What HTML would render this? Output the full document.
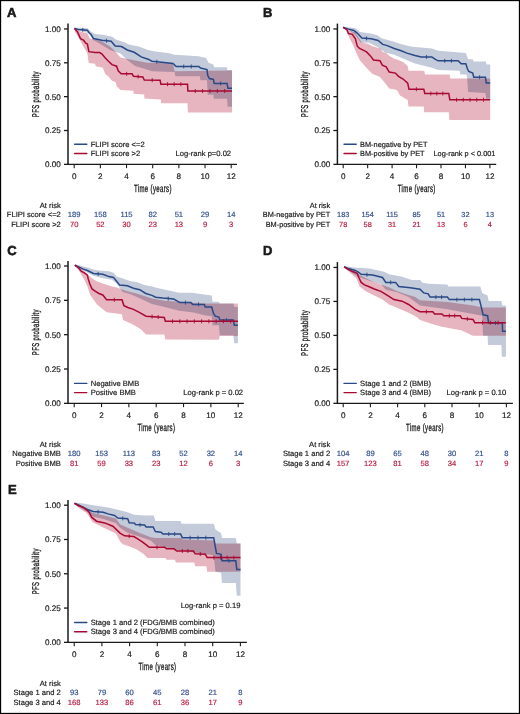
<!DOCTYPE html>
<html><head><meta charset="utf-8"><style>
html,body{margin:0;padding:0;background:#fff;width:520px;height:714px;overflow:hidden}
svg{display:block;will-change:transform;text-rendering:geometricPrecision;font-size:7.6px}
text{font-family:"Liberation Sans",sans-serif;fill:#1a1a1a;stroke:#1a1a1a;stroke-width:0.18px}
</style></head><body>
<svg width="520" height="714" viewBox="0 0 520 714">
<rect x="0.5" y="0.5" width="519" height="713" fill="#fff" stroke="#000" stroke-width="1.3"/>
<g style="font-size:7.6px"><path d="M74.5 27.5 L87.4 28.2 L90.5 31.2 L95 34 L102.8 34.8 L112.3 36.7 L115.8 39.6 L125 42.5 L129.6 44.8 L138.8 46.5 L148.1 50 L155 51.5 L168.2 53.1 L174.6 54.7 L198.8 56.3 L206.1 57.9 L208.5 62.8 L213.4 64.5 L214.2 67.3 L227.1 67.3 L227.1 70 L232 70 L232 106.8 L227.6 106.8 L227.1 98.8 L213.7 98.8 L213.4 94.7 L207.7 94.7 L207 80.2 L200.5 80.2 L199.7 76.2 L175.4 76.2 L174.6 72.1 L152 71.3 L146.9 69.6 L135 66 L127.4 60 L120.4 53.5 L110 50 L100.8 44.2 L93 40 L88.9 33.2 L80 30.5 L74.5 29 Z" fill="#c3cad9"/>
<path d="M74.5 28.5 L81.2 31.7 L87.4 33.2 L89.7 38.6 L100.8 40.8 L110 46.5 L115 51 L120.4 57.5 L129 59.3 L138 61 L146.9 62.7 L173 63.2 L174.6 71.3 L232 70.5 L232 112.5 L187.9 112.5 L187.5 103.3 L161.2 103.3 L160.9 99.6 L144.3 98.5 L144.3 94.6 L133.5 93.8 L133.5 90.8 L120.5 90 L116.6 86.2 L115.8 82.3 L112 80.8 L108.9 76.9 L105.1 73.8 L102.8 67.7 L95.8 66.2 L95.1 63.8 L88.9 63.1 L88.2 60 L87.4 53.2 L82.8 45.5 L79.7 39.4 L75 31.7 L74.5 29 Z" fill="#e6b5c0" style="mix-blend-mode:multiply"/>
<path d="M74.5 28.6 L78.2 29.5 L87.4 30.2 L88.9 32.5 L91.2 34.8 L93.5 38.6 L98.2 39.4 L101.9 40.2 L111.2 41.3 L115.2 46 L121.5 46.5 L127.3 50 L134.2 52.3 L141.2 56.9 L148.1 59.2 L152 61.2 L161.7 62.2 L173 63.5 L176.2 66.5 L198.8 66.5 L200.5 68.1 L207 69.5 L207.7 75.3 L209.4 78.6 L213.4 79.4 L214.2 83.4 L227.1 83.4 L227.9 88.3 L232 88.3" fill="none" stroke="#284887" stroke-width="1.5" stroke-linejoin="miter"/>
<path d="M82.8 27.85v4M106.55 38.75v4M156.85 59.7v4M183.73 64.5v4M191.27 64.5v4M220.65 81.4v4" stroke="#284887" stroke-width="0.9"/>
<path d="M74.5 28.6 L77.4 31.7 L80.5 38.6 L83.5 40.2 L85.8 43.2 L87.4 44 L88.9 51.7 L95.1 52.5 L99.7 52.5 L102 54 L105.1 57.8 L108.2 61 L112 64.6 L116.6 66.2 L118.2 70.8 L121.2 73.8 L132 73.8 L133.5 76.2 L142.8 76.9 L144.3 80 L160.1 80.2 L160.9 84.2 L187.5 84.2 L187.9 91 L232 91" fill="none" stroke="#a80832" stroke-width="1.5" stroke-linejoin="miter"/>
<path d="M126.6 71.8v4M138.15 74.55v4M152.2 78.1v4M167.55 82.2v4M174.2 82.2v4M180.85 82.2v4M195.25 89v4M202.6 89v4M209.95 89v4M217.3 89v4M224.65 89v4" stroke="#a80832" stroke-width="0.9"/>
<path d="M68 23.6 V164.95" fill="none" stroke="#1a1a1a" stroke-width="1.5"/>
<path d="M67.25 164.35 H237" fill="none" stroke="#1a1a1a" stroke-width="1.35"/>
<path d="M64 164.35 H68" stroke="#1a1a1a" stroke-width="1.3"/>
<text x="60.8" y="167.25" text-anchor="end" style="font-size:8.1px">0.00</text>
<path d="M64 130.5 H68" stroke="#1a1a1a" stroke-width="1.3"/>
<text x="60.8" y="133.4" text-anchor="end" style="font-size:8.1px">0.25</text>
<path d="M64 96.65 H68" stroke="#1a1a1a" stroke-width="1.3"/>
<text x="60.8" y="99.55" text-anchor="end" style="font-size:8.1px">0.50</text>
<path d="M64 62.8 H68" stroke="#1a1a1a" stroke-width="1.3"/>
<text x="60.8" y="65.7" text-anchor="end" style="font-size:8.1px">0.75</text>
<path d="M64 28.95 H68" stroke="#1a1a1a" stroke-width="1.3"/>
<text x="60.8" y="31.85" text-anchor="end" style="font-size:8.1px">1.00</text>
<path d="M74.2 164.35 V168.15" stroke="#1a1a1a" stroke-width="1.1"/>
<text x="74.2" y="178.95" text-anchor="middle" style="font-size:8.1px">0</text>
<path d="M100.37 164.35 V168.15" stroke="#1a1a1a" stroke-width="1.1"/>
<text x="100.37" y="178.95" text-anchor="middle" style="font-size:8.1px">2</text>
<path d="M126.53 164.35 V168.15" stroke="#1a1a1a" stroke-width="1.1"/>
<text x="126.53" y="178.95" text-anchor="middle" style="font-size:8.1px">4</text>
<path d="M152.7 164.35 V168.15" stroke="#1a1a1a" stroke-width="1.1"/>
<text x="152.7" y="178.95" text-anchor="middle" style="font-size:8.1px">6</text>
<path d="M178.87 164.35 V168.15" stroke="#1a1a1a" stroke-width="1.1"/>
<text x="178.87" y="178.95" text-anchor="middle" style="font-size:8.1px">8</text>
<path d="M205.03 164.35 V168.15" stroke="#1a1a1a" stroke-width="1.1"/>
<text x="205.03" y="178.95" text-anchor="middle" style="font-size:8.1px">10</text>
<path d="M231.2 164.35 V168.15" stroke="#1a1a1a" stroke-width="1.1"/>
<text x="231.2" y="178.95" text-anchor="middle" style="font-size:8.1px">12</text>
<text transform="translate(152.9 192.35) scale(0.58 1)" x="0" y="0" text-anchor="middle" style="font-size:10.4px;stroke-width:0.35px;letter-spacing:0.62px">Time (years)</text>
<text transform="translate(38.9 94.15) rotate(-90) scale(0.6 1)" x="0" y="0" text-anchor="middle" style="font-size:9.9px;stroke-width:0.35px;letter-spacing:0.65px">PFS probability</text>
<text x="7" y="17.2" style="font-size:13px;font-weight:bold;stroke-width:0.6px">A</text>
<path d="M74.6 144.2 H86.8" stroke="#284887" stroke-width="1.4" stroke-linecap="round"/>
<text x="90.7" y="146.6">FLIPI score &lt;=2</text>
<path d="M74.6 153.5 H86.8" stroke="#a80832" stroke-width="1.4" stroke-linecap="round"/>
<text x="90.7" y="155.9">FLIPI score &gt;2</text>
<text x="231.1" y="156.1" text-anchor="end">Log-rank p=0.02</text>
<text x="60.8" y="207.65" text-anchor="end">At risk</text>
<text x="60.8" y="217.25" text-anchor="end">FLIPI score &lt;=2</text>
<text x="74.2" y="217.25" text-anchor="middle" style="fill:#33508e;stroke:#33508e">189</text>
<text x="100.37" y="217.25" text-anchor="middle" style="fill:#33508e;stroke:#33508e">158</text>
<text x="126.53" y="217.25" text-anchor="middle" style="fill:#33508e;stroke:#33508e">115</text>
<text x="152.7" y="217.25" text-anchor="middle" style="fill:#33508e;stroke:#33508e">82</text>
<text x="178.87" y="217.25" text-anchor="middle" style="fill:#33508e;stroke:#33508e">51</text>
<text x="205.03" y="217.25" text-anchor="middle" style="fill:#33508e;stroke:#33508e">29</text>
<text x="231.2" y="217.25" text-anchor="middle" style="fill:#33508e;stroke:#33508e">14</text>
<text x="60.8" y="226.65" text-anchor="end">FLIPI score &gt;2</text>
<text x="74.2" y="226.65" text-anchor="middle" style="fill:#bb1f45;stroke:#bb1f45">70</text>
<text x="100.37" y="226.65" text-anchor="middle" style="fill:#bb1f45;stroke:#bb1f45">52</text>
<text x="126.53" y="226.65" text-anchor="middle" style="fill:#bb1f45;stroke:#bb1f45">30</text>
<text x="152.7" y="226.65" text-anchor="middle" style="fill:#bb1f45;stroke:#bb1f45">23</text>
<text x="178.87" y="226.65" text-anchor="middle" style="fill:#bb1f45;stroke:#bb1f45">13</text>
<text x="205.03" y="226.65" text-anchor="middle" style="fill:#bb1f45;stroke:#bb1f45">9</text>
<text x="231.2" y="226.65" text-anchor="middle" style="fill:#bb1f45;stroke:#bb1f45">3</text></g>
<g style="font-size:7.35px"><path d="M343.1 26.6 L355.4 28.2 L360 32 L370.8 33.5 L376.9 35.1 L381.5 38.2 L392.3 41.2 L401.5 44.3 L410.8 46.6 L415 46.9 L431.9 48.5 L438.1 50.8 L465.8 53.1 L468.1 59.2 L472.7 59.2 L473.5 61.5 L485.8 61.5 L486.5 64.6 L490.2 64.6 L490.2 98.8 L486.3 98.8 L485.4 93 L468.1 92.1 L467.1 77.7 L466.5 74.6 L460.4 74.6 L459.6 70.8 L438.1 70 L431.9 67.7 L415 63.5 L409.2 61.2 L403.5 58.8 L394.2 54.8 L385 52.5 L378.1 47.3 L368.8 42.7 L360.8 42.7 L355 34.6 L346.9 28.9 L343.1 28 Z" fill="#c3cad9"/>
<path d="M343.1 27.5 L346.2 28.2 L349.2 30.5 L355 32.3 L359.6 39.2 L361.9 42.7 L367.7 43.8 L372.3 46.2 L380.4 48.5 L382.7 51.9 L386.2 53.1 L389.6 56 L394.2 58.8 L398.5 60 L403.5 62.3 L407.7 66.2 L408.5 70.8 L424.2 70.8 L425 74.6 L449.6 74.6 L450.4 78.5 L490.2 78.5 L490.2 120 L449.4 120 L448.8 112.3 L424.2 112.3 L423.8 106.5 L408.5 106.5 L407.7 100 L400 95.4 L396.9 90 L389.2 88.5 L386.2 84.6 L380 76.9 L372.3 73.8 L366.9 68.2 L360 60.5 L356.2 52.8 L353.1 45.1 L349.2 37.4 L346.2 30.5 L343.1 28 Z" fill="#e6b5c0" style="mix-blend-mode:multiply"/>
<path d="M343.1 27.4 L347.7 28.9 L353.8 30.5 L356.9 32.8 L361.9 38.1 L371.2 38.7 L378.1 40.4 L382.7 44.4 L387.3 45.6 L394.2 48.5 L401.2 50.8 L406.9 53.1 L415 55.4 L421.2 56.9 L431.9 56.9 L435 59.2 L438.1 60.8 L458.1 60.8 L461.2 63.8 L465.8 63.8 L467.3 68.5 L468.8 71.5 L472.7 73.1 L473.8 77.2 L485.4 77.2 L486.3 83.1 L490.2 83.1" fill="none" stroke="#284887" stroke-width="1.5" stroke-linejoin="miter"/>
<path d="M366.55 36.4v4M426.55 54.9v4M444.77 58.8v4M451.43 58.8v4M479.6 75.2v4" stroke="#284887" stroke-width="0.9"/>
<path d="M343.1 27.4 L346.9 29.7 L348.5 33.5 L352.3 34.3 L355.4 38.9 L357.3 46.2 L359.6 48.5 L363.1 50.2 L366.5 51.9 L370 55.4 L373.5 60 L380 60.7 L382.3 65.1 L386.2 66.9 L389.2 72.1 L395.4 73.1 L398.5 76.3 L403.1 79 L407.7 83.1 L409 89.2 L423.8 89.2 L424.8 93.5 L448.8 93.5 L449.8 99.8 L490.2 99.8" fill="none" stroke="#a80832" stroke-width="1.5" stroke-linejoin="miter"/>
<path d="M416.4 87.2v4M430.8 91.5v4M436.8 91.5v4M442.8 91.5v4M456.53 97.8v4M463.27 97.8v4M470 97.8v4M476.73 97.8v4M483.47 97.8v4" stroke="#a80832" stroke-width="0.9"/>
<path d="M337.4 23.6 V164.95" fill="none" stroke="#1a1a1a" stroke-width="1.5"/>
<path d="M336.65 164.35 H496.2" fill="none" stroke="#1a1a1a" stroke-width="1.35"/>
<path d="M333.4 164.35 H337.4" stroke="#1a1a1a" stroke-width="1.3"/>
<text x="330.2" y="167.25" text-anchor="end" style="font-size:8.1px">0.00</text>
<path d="M333.4 130.5 H337.4" stroke="#1a1a1a" stroke-width="1.3"/>
<text x="330.2" y="133.4" text-anchor="end" style="font-size:8.1px">0.25</text>
<path d="M333.4 96.65 H337.4" stroke="#1a1a1a" stroke-width="1.3"/>
<text x="330.2" y="99.55" text-anchor="end" style="font-size:8.1px">0.50</text>
<path d="M333.4 62.8 H337.4" stroke="#1a1a1a" stroke-width="1.3"/>
<text x="330.2" y="65.7" text-anchor="end" style="font-size:8.1px">0.75</text>
<path d="M333.4 28.95 H337.4" stroke="#1a1a1a" stroke-width="1.3"/>
<text x="330.2" y="31.85" text-anchor="end" style="font-size:8.1px">1.00</text>
<path d="M343.2 164.35 V168.15" stroke="#1a1a1a" stroke-width="1.1"/>
<text x="343.2" y="178.95" text-anchor="middle" style="font-size:8.1px">0</text>
<path d="M367.65 164.35 V168.15" stroke="#1a1a1a" stroke-width="1.1"/>
<text x="367.65" y="178.95" text-anchor="middle" style="font-size:8.1px">2</text>
<path d="M392.1 164.35 V168.15" stroke="#1a1a1a" stroke-width="1.1"/>
<text x="392.1" y="178.95" text-anchor="middle" style="font-size:8.1px">4</text>
<path d="M416.55 164.35 V168.15" stroke="#1a1a1a" stroke-width="1.1"/>
<text x="416.55" y="178.95" text-anchor="middle" style="font-size:8.1px">6</text>
<path d="M441 164.35 V168.15" stroke="#1a1a1a" stroke-width="1.1"/>
<text x="441" y="178.95" text-anchor="middle" style="font-size:8.1px">8</text>
<path d="M465.45 164.35 V168.15" stroke="#1a1a1a" stroke-width="1.1"/>
<text x="465.45" y="178.95" text-anchor="middle" style="font-size:8.1px">10</text>
<path d="M489.9 164.35 V168.15" stroke="#1a1a1a" stroke-width="1.1"/>
<text x="489.9" y="178.95" text-anchor="middle" style="font-size:8.1px">12</text>
<text transform="translate(416.75 192.35) scale(0.58 1)" x="0" y="0" text-anchor="middle" style="font-size:10.4px;stroke-width:0.35px;letter-spacing:0.62px">Time (years)</text>
<text transform="translate(308.3 94.15) rotate(-90) scale(0.6 1)" x="0" y="0" text-anchor="middle" style="font-size:9.9px;stroke-width:0.35px;letter-spacing:0.65px">PFS probability</text>
<text x="263" y="17.4" style="font-size:13px;font-weight:bold;stroke-width:0.6px">B</text>
<path d="M344 144.2 H356.2" stroke="#284887" stroke-width="1.4" stroke-linecap="round"/>
<text x="360.1" y="146.6">BM-negative by PET</text>
<path d="M344 153.5 H356.2" stroke="#a80832" stroke-width="1.4" stroke-linecap="round"/>
<text x="360.1" y="155.9">BM-positive by PET</text>
<text x="495.4" y="156.2" text-anchor="end">Log-rank p &lt; 0.001</text>
<text x="330.2" y="207.65" text-anchor="end">At risk</text>
<text x="330.2" y="217.25" text-anchor="end">BM-negative by PET</text>
<text x="343.2" y="217.25" text-anchor="middle" style="fill:#33508e;stroke:#33508e">183</text>
<text x="367.65" y="217.25" text-anchor="middle" style="fill:#33508e;stroke:#33508e">154</text>
<text x="392.1" y="217.25" text-anchor="middle" style="fill:#33508e;stroke:#33508e">115</text>
<text x="416.55" y="217.25" text-anchor="middle" style="fill:#33508e;stroke:#33508e">85</text>
<text x="441" y="217.25" text-anchor="middle" style="fill:#33508e;stroke:#33508e">51</text>
<text x="465.45" y="217.25" text-anchor="middle" style="fill:#33508e;stroke:#33508e">32</text>
<text x="489.9" y="217.25" text-anchor="middle" style="fill:#33508e;stroke:#33508e">13</text>
<text x="330.2" y="226.65" text-anchor="end">BM-positive by PET</text>
<text x="343.2" y="226.65" text-anchor="middle" style="fill:#bb1f45;stroke:#bb1f45">78</text>
<text x="367.65" y="226.65" text-anchor="middle" style="fill:#bb1f45;stroke:#bb1f45">58</text>
<text x="392.1" y="226.65" text-anchor="middle" style="fill:#bb1f45;stroke:#bb1f45">31</text>
<text x="416.55" y="226.65" text-anchor="middle" style="fill:#bb1f45;stroke:#bb1f45">21</text>
<text x="441" y="226.65" text-anchor="middle" style="fill:#bb1f45;stroke:#bb1f45">13</text>
<text x="465.45" y="226.65" text-anchor="middle" style="fill:#bb1f45;stroke:#bb1f45">6</text>
<text x="489.9" y="226.65" text-anchor="middle" style="fill:#bb1f45;stroke:#bb1f45">4</text></g>
<g style="font-size:7.6px"><path d="M74.8 264.3 L87.4 267.4 L92 268.9 L98.2 270.5 L108.9 271.2 L113.5 272.8 L116.6 276.6 L124.3 278.9 L130.5 281.2 L136.6 282 L144.3 285.1 L152 286.5 L157.4 288.1 L179.1 292.7 L191.8 292.7 L204.4 294.5 L211.7 295.4 L212.6 301.7 L218.9 301.7 L219.8 303.5 L233.4 303.5 L234.3 307.1 L237.9 307.1 L237.9 343.3 L234.3 343.3 L233.4 335.2 L219.8 335.2 L218.9 325.2 L212.6 325.2 L211.7 316.2 L204.4 315.3 L193.6 312.5 L179.1 310.7 L164.7 307.1 L152 304 L139.7 298.2 L130.5 294.3 L122.8 292 L116.6 283.5 L112 279.7 L102.8 278.2 L93.5 275.8 L87.4 272.8 L78.2 267.5 L74.8 265.8 Z" fill="#c3cad9"/>
<path d="M74.8 265 L78.2 266.6 L82.8 269.7 L87.4 274.3 L92 278.2 L96.6 281.2 L102.8 283.5 L112 286.6 L116.6 287.4 L127.4 291.2 L136.6 293.5 L152 298.5 L164.7 300.8 L179.1 301.7 L204.4 303.5 L237.9 303.5 L237.9 336 L219.8 336 L218.9 339.7 L165.3 339.5 L164.3 334.4 L146 334.4 L141.2 329.6 L133.5 324.8 L123 320 L122 314.2 L106.6 312.3 L97 304.6 L90.3 295 L87.4 286.6 L84.3 279.7 L81.2 274.3 L78.2 269.7 L74.8 265.8 Z" fill="#e6b5c0" style="mix-blend-mode:multiply"/>
<path d="M74.8 265.1 L78.2 266.6 L82.8 268.9 L87.4 270.5 L93.5 273.5 L102.8 274.3 L108.9 276.6 L113.5 277.4 L116.6 281.2 L119.7 285.1 L127.4 285.8 L133.5 288.2 L139.7 289.7 L145.8 293.5 L152 295.4 L155.6 297.2 L162.8 298.1 L173.7 299 L180 302.6 L190.9 302.6 L192.7 304.4 L204.4 304.4 L205.3 307.1 L211.7 307.1 L213.5 313.5 L215.3 316.2 L218.9 317.1 L219.8 320.1 L233.4 320.1 L234.3 325.2 L237.9 325.2" fill="none" stroke="#284887" stroke-width="1.5" stroke-linejoin="miter"/>
<path d="M98.15 271.9v4M168.25 296.55v4M185.45 300.6v4M198.55 302.4v4M226.6 318.1v4" stroke="#284887" stroke-width="0.9"/>
<path d="M74.8 265.1 L78.9 268.2 L81.2 271.2 L84.3 272.8 L87.4 275.1 L88.2 278.9 L89.7 283.5 L92 288.9 L95.1 291.2 L98.9 293.5 L102.8 295 L106.6 299.8 L122 299.8 L123.9 305.6 L127.8 307.5 L133.5 309.4 L139.3 312.3 L146 316.2 L164.3 317.4 L165.3 321.3 L237.9 321.3" fill="none" stroke="#a80832" stroke-width="1.5" stroke-linejoin="miter"/>
<path d="M114.3 297.8v4M152.1 314.6v4M158.2 315v4M172.56 319.3v4M179.82 319.3v4M187.08 319.3v4M194.34 319.3v4M201.6 319.3v4M208.86 319.3v4M216.12 319.3v4M223.38 319.3v4M230.64 319.3v4" stroke="#a80832" stroke-width="0.9"/>
<path d="M68 260.9 V403.95" fill="none" stroke="#1a1a1a" stroke-width="1.5"/>
<path d="M67.25 403.35 H243.8" fill="none" stroke="#1a1a1a" stroke-width="1.35"/>
<path d="M64 403.35 H68" stroke="#1a1a1a" stroke-width="1.3"/>
<text x="60.8" y="406.25" text-anchor="end" style="font-size:8.1px">0.00</text>
<path d="M64 369.01 H68" stroke="#1a1a1a" stroke-width="1.3"/>
<text x="60.8" y="371.91" text-anchor="end" style="font-size:8.1px">0.25</text>
<path d="M64 334.68 H68" stroke="#1a1a1a" stroke-width="1.3"/>
<text x="60.8" y="337.57" text-anchor="end" style="font-size:8.1px">0.50</text>
<path d="M64 300.34 H68" stroke="#1a1a1a" stroke-width="1.3"/>
<text x="60.8" y="303.24" text-anchor="end" style="font-size:8.1px">0.75</text>
<path d="M64 266 H68" stroke="#1a1a1a" stroke-width="1.3"/>
<text x="60.8" y="268.9" text-anchor="end" style="font-size:8.1px">1.00</text>
<path d="M74.2 403.35 V407.15" stroke="#1a1a1a" stroke-width="1.1"/>
<text x="74.2" y="417.95" text-anchor="middle" style="font-size:8.1px">0</text>
<path d="M101.53 403.35 V407.15" stroke="#1a1a1a" stroke-width="1.1"/>
<text x="101.53" y="417.95" text-anchor="middle" style="font-size:8.1px">2</text>
<path d="M128.87 403.35 V407.15" stroke="#1a1a1a" stroke-width="1.1"/>
<text x="128.87" y="417.95" text-anchor="middle" style="font-size:8.1px">4</text>
<path d="M156.2 403.35 V407.15" stroke="#1a1a1a" stroke-width="1.1"/>
<text x="156.2" y="417.95" text-anchor="middle" style="font-size:8.1px">6</text>
<path d="M183.53 403.35 V407.15" stroke="#1a1a1a" stroke-width="1.1"/>
<text x="183.53" y="417.95" text-anchor="middle" style="font-size:8.1px">8</text>
<path d="M210.87 403.35 V407.15" stroke="#1a1a1a" stroke-width="1.1"/>
<text x="210.87" y="417.95" text-anchor="middle" style="font-size:8.1px">10</text>
<path d="M238.2 403.35 V407.15" stroke="#1a1a1a" stroke-width="1.1"/>
<text x="238.2" y="417.95" text-anchor="middle" style="font-size:8.1px">12</text>
<text transform="translate(156.4 431.35) scale(0.58 1)" x="0" y="0" text-anchor="middle" style="font-size:10.4px;stroke-width:0.35px;letter-spacing:0.62px">Time (years)</text>
<text transform="translate(38.9 332.18) rotate(-90) scale(0.6 1)" x="0" y="0" text-anchor="middle" style="font-size:9.9px;stroke-width:0.35px;letter-spacing:0.65px">PFS probability</text>
<text x="7.3" y="254.8" style="font-size:13px;font-weight:bold;stroke-width:0.6px">C</text>
<path d="M74.6 383.4 H86.8" stroke="#284887" stroke-width="1.4" stroke-linecap="round"/>
<text x="90.7" y="385.8">Negative BMB</text>
<path d="M74.6 392.6 H86.8" stroke="#a80832" stroke-width="1.4" stroke-linecap="round"/>
<text x="90.7" y="395">Positive BMB</text>
<text x="243.1" y="395.3" text-anchor="end">Log-rank p = 0.02</text>
<text x="60.8" y="446.65" text-anchor="end">At risk</text>
<text x="60.8" y="456.25" text-anchor="end">Negative BMB</text>
<text x="74.2" y="456.25" text-anchor="middle" style="fill:#33508e;stroke:#33508e">180</text>
<text x="101.53" y="456.25" text-anchor="middle" style="fill:#33508e;stroke:#33508e">153</text>
<text x="128.87" y="456.25" text-anchor="middle" style="fill:#33508e;stroke:#33508e">113</text>
<text x="156.2" y="456.25" text-anchor="middle" style="fill:#33508e;stroke:#33508e">83</text>
<text x="183.53" y="456.25" text-anchor="middle" style="fill:#33508e;stroke:#33508e">52</text>
<text x="210.87" y="456.25" text-anchor="middle" style="fill:#33508e;stroke:#33508e">32</text>
<text x="238.2" y="456.25" text-anchor="middle" style="fill:#33508e;stroke:#33508e">14</text>
<text x="60.8" y="465.65" text-anchor="end">Positive BMB</text>
<text x="74.2" y="465.65" text-anchor="middle" style="fill:#bb1f45;stroke:#bb1f45">81</text>
<text x="101.53" y="465.65" text-anchor="middle" style="fill:#bb1f45;stroke:#bb1f45">59</text>
<text x="128.87" y="465.65" text-anchor="middle" style="fill:#bb1f45;stroke:#bb1f45">33</text>
<text x="156.2" y="465.65" text-anchor="middle" style="fill:#bb1f45;stroke:#bb1f45">23</text>
<text x="183.53" y="465.65" text-anchor="middle" style="fill:#bb1f45;stroke:#bb1f45">12</text>
<text x="210.87" y="465.65" text-anchor="middle" style="fill:#bb1f45;stroke:#bb1f45">6</text>
<text x="238.2" y="465.65" text-anchor="middle" style="fill:#bb1f45;stroke:#bb1f45">3</text></g>
<g style="font-size:7.6px"><path d="M344.1 266.1 L356.3 267.7 L369.4 268.5 L384.1 271.8 L389 274.3 L402.1 276.7 L411.9 280 L420 280.1 L422.7 282.8 L428.2 283.7 L447.4 284.6 L448.3 286.5 L480.3 286.5 L482.2 292.9 L487.6 295.6 L488.6 301.1 L501.4 301.1 L502.3 305.6 L505.9 305.6 L505.9 356.8 L501.9 356.8 L501.4 345 L488 345 L487.6 335.8 L483.1 335.8 L482.2 315.7 L473 313.9 L447.4 309.3 L420 305.6 L408.6 297.1 L397.2 292.2 L385.8 289.8 L380.9 284.1 L369.4 280.8 L358 276.7 L348.2 270.2 L344.1 267.5 Z" fill="#c3cad9"/>
<path d="M344.1 266.5 L349.8 268.5 L356.3 271.8 L359.6 275.1 L364.5 277.5 L372.7 281.6 L382.5 284.9 L389 287.3 L395.6 290.6 L405.4 293.9 L415.2 297.1 L420 300.2 L447.4 302 L473 305.6 L482.2 307.5 L505.9 307.5 L505.9 335.8 L473 335.8 L461.1 330.3 L441.9 326.7 L434.6 324.8 L420 320 L416.8 317 L408.6 312.7 L398.8 308.6 L389 304.5 L382.5 299.6 L372.7 294.7 L366.2 291.4 L359.6 286.5 L356.3 278.3 L349.8 272.6 L344.1 267.7 Z" fill="#e6b5c0" style="mix-blend-mode:multiply"/>
<path d="M344.1 266.9 L348.2 268.5 L354.7 270.2 L358 271.8 L361.2 274.3 L372.7 275.1 L382.5 277.5 L385.8 282.4 L395.6 282.4 L398.8 286.5 L410.3 287.8 L420 289.2 L423.7 292.9 L428.2 293.8 L430.1 297.1 L447.4 297.1 L449.3 299.6 L479.4 299.6 L481.2 306.6 L483.1 314.8 L487.6 315.7 L488.6 323 L502.3 323 L502.6 331.2 L505.9 331.2" fill="none" stroke="#284887" stroke-width="1.5" stroke-linejoin="miter"/>
<path d="M366.95 272.7v4M390.7 280.4v4M435.87 295.1v4M441.63 295.1v4M456.82 297.6v4M464.35 297.6v4M471.88 297.6v4M495.45 321v4" stroke="#284887" stroke-width="0.9"/>
<path d="M344.1 266.9 L348.2 269.4 L353.1 271.8 L357.2 273.4 L358.8 277.5 L361.2 282.4 L364.5 284.9 L368.6 286.5 L374.3 289 L380.9 291.4 L385 293.9 L389 296.3 L393.9 299.6 L402.1 301.2 L408.6 304.5 L415.2 309.4 L420 311.7 L432.8 311.7 L434.6 313.9 L441.9 313.9 L443.8 315.7 L460.2 315.7 L461.7 318.4 L473 319.4 L474.8 322.7 L505.9 322.7" fill="none" stroke="#a80832" stroke-width="1.5" stroke-linejoin="miter"/>
<path d="M426.4 309.7v4M449.27 313.7v4M454.73 313.7v4M467.35 316.9v4M482.57 320.7v4M490.35 320.7v4M498.12 320.7v4" stroke="#a80832" stroke-width="0.9"/>
<path d="M337.4 262.1 V403.95" fill="none" stroke="#1a1a1a" stroke-width="1.5"/>
<path d="M336.65 403.35 H512.9" fill="none" stroke="#1a1a1a" stroke-width="1.35"/>
<path d="M333.4 403.35 H337.4" stroke="#1a1a1a" stroke-width="1.3"/>
<text x="330.2" y="406.25" text-anchor="end" style="font-size:8.1px">0.00</text>
<path d="M333.4 369.38 H337.4" stroke="#1a1a1a" stroke-width="1.3"/>
<text x="330.2" y="372.27" text-anchor="end" style="font-size:8.1px">0.25</text>
<path d="M333.4 335.4 H337.4" stroke="#1a1a1a" stroke-width="1.3"/>
<text x="330.2" y="338.3" text-anchor="end" style="font-size:8.1px">0.50</text>
<path d="M333.4 301.43 H337.4" stroke="#1a1a1a" stroke-width="1.3"/>
<text x="330.2" y="304.32" text-anchor="end" style="font-size:8.1px">0.75</text>
<path d="M333.4 267.45 H337.4" stroke="#1a1a1a" stroke-width="1.3"/>
<text x="330.2" y="270.35" text-anchor="end" style="font-size:8.1px">1.00</text>
<path d="M343.2 403.35 V407.15" stroke="#1a1a1a" stroke-width="1.1"/>
<text x="343.2" y="417.95" text-anchor="middle" style="font-size:8.1px">0</text>
<path d="M370.4 403.35 V407.15" stroke="#1a1a1a" stroke-width="1.1"/>
<text x="370.4" y="417.95" text-anchor="middle" style="font-size:8.1px">2</text>
<path d="M397.6 403.35 V407.15" stroke="#1a1a1a" stroke-width="1.1"/>
<text x="397.6" y="417.95" text-anchor="middle" style="font-size:8.1px">4</text>
<path d="M424.8 403.35 V407.15" stroke="#1a1a1a" stroke-width="1.1"/>
<text x="424.8" y="417.95" text-anchor="middle" style="font-size:8.1px">6</text>
<path d="M452 403.35 V407.15" stroke="#1a1a1a" stroke-width="1.1"/>
<text x="452" y="417.95" text-anchor="middle" style="font-size:8.1px">8</text>
<path d="M479.2 403.35 V407.15" stroke="#1a1a1a" stroke-width="1.1"/>
<text x="479.2" y="417.95" text-anchor="middle" style="font-size:8.1px">10</text>
<path d="M506.4 403.35 V407.15" stroke="#1a1a1a" stroke-width="1.1"/>
<text x="506.4" y="417.95" text-anchor="middle" style="font-size:8.1px">12</text>
<text transform="translate(425 431.35) scale(0.58 1)" x="0" y="0" text-anchor="middle" style="font-size:10.4px;stroke-width:0.35px;letter-spacing:0.62px">Time (years)</text>
<text transform="translate(308.3 332.9) rotate(-90) scale(0.6 1)" x="0" y="0" text-anchor="middle" style="font-size:9.9px;stroke-width:0.35px;letter-spacing:0.65px">PFS probability</text>
<text x="263" y="254.8" style="font-size:13px;font-weight:bold;stroke-width:0.6px">D</text>
<path d="M344 383.4 H356.2" stroke="#284887" stroke-width="1.4" stroke-linecap="round"/>
<text x="360.1" y="385.8">Stage 1 and 2 (BMB)</text>
<path d="M344 392.6 H356.2" stroke="#a80832" stroke-width="1.4" stroke-linecap="round"/>
<text x="360.1" y="395">Stage 3 and 4 (BMB)</text>
<text x="506.2" y="395.3" text-anchor="end">Log-rank p = 0.10</text>
<text x="330.2" y="446.65" text-anchor="end">At risk</text>
<text x="330.2" y="456.25" text-anchor="end">Stage 1 and 2</text>
<text x="343.2" y="456.25" text-anchor="middle" style="fill:#33508e;stroke:#33508e">104</text>
<text x="370.4" y="456.25" text-anchor="middle" style="fill:#33508e;stroke:#33508e">89</text>
<text x="397.6" y="456.25" text-anchor="middle" style="fill:#33508e;stroke:#33508e">65</text>
<text x="424.8" y="456.25" text-anchor="middle" style="fill:#33508e;stroke:#33508e">48</text>
<text x="452" y="456.25" text-anchor="middle" style="fill:#33508e;stroke:#33508e">30</text>
<text x="479.2" y="456.25" text-anchor="middle" style="fill:#33508e;stroke:#33508e">21</text>
<text x="506.4" y="456.25" text-anchor="middle" style="fill:#33508e;stroke:#33508e">8</text>
<text x="330.2" y="465.65" text-anchor="end">Stage 3 and 4</text>
<text x="343.2" y="465.65" text-anchor="middle" style="fill:#bb1f45;stroke:#bb1f45">157</text>
<text x="370.4" y="465.65" text-anchor="middle" style="fill:#bb1f45;stroke:#bb1f45">123</text>
<text x="397.6" y="465.65" text-anchor="middle" style="fill:#bb1f45;stroke:#bb1f45">81</text>
<text x="424.8" y="465.65" text-anchor="middle" style="fill:#bb1f45;stroke:#bb1f45">58</text>
<text x="452" y="465.65" text-anchor="middle" style="fill:#bb1f45;stroke:#bb1f45">34</text>
<text x="479.2" y="465.65" text-anchor="middle" style="fill:#bb1f45;stroke:#bb1f45">17</text>
<text x="506.4" y="465.65" text-anchor="middle" style="fill:#bb1f45;stroke:#bb1f45">9</text></g>
<g style="font-size:7.6px"><path d="M74.5 502.5 L81.8 503.3 L91.6 504.9 L108 507.4 L117.8 509.8 L127.6 512.3 L134.1 514.7 L143.9 515.5 L153.8 515.4 L154.6 518.3 L155.5 521.1 L180.5 521.1 L181.4 523.8 L213.7 523.8 L215.5 529.4 L221.1 533.1 L222 538.1 L235.8 538.1 L236.8 543.6 L240.5 543.6 L240.5 595.8 L236.8 595.8 L235.8 582.9 L222 582.9 L221.1 572.8 L215.5 571.8 L213.7 555.2 L194.3 552.5 L175.8 549.7 L164.8 546.9 L155.4 545 L150.8 540.4 L139.2 536.5 L127.7 532.7 L120 527.7 L115.8 523 L104.2 519.2 L92.7 516.5 L88.3 513.1 L78.5 506.5 L74.5 504 Z" fill="#c3cad9"/>
<path d="M74.5 503 L78.5 504.9 L88.3 509.8 L92.7 513.1 L104.2 515.4 L115.8 518.5 L120 524.2 L127.7 527.7 L139.2 532.7 L150.8 537.3 L155.5 538 L181.4 538 L182.3 539.5 L213.7 540.5 L215.5 543.6 L240.5 543.6 L240.5 571.8 L207.2 571.8 L206.3 566.3 L195.2 566.3 L194.3 562.6 L175.8 562.6 L175 559.8 L166.6 559.8 L165.7 558 L147.7 558 L143 553.5 L135.4 548.8 L127.7 545.8 L123 544.2 L120 541.2 L115.8 533.5 L104.2 528 L92.7 522.3 L86.7 513.1 L80.2 509 L74.5 504.1 Z" fill="#e6b5c0" style="mix-blend-mode:multiply"/>
<path d="M74.5 503.3 L78.5 504.9 L83.4 507.4 L88.3 509.8 L93.2 511.4 L103.1 512.3 L108 513.9 L114.5 515.5 L117.8 518 L127.7 518.8 L129.2 522.7 L134.6 523.1 L135.4 524.6 L144.6 525 L146.2 526.9 L153.1 526.9 L155.4 531.5 L161.1 532.2 L162.9 534 L180.5 534 L182.3 537.7 L213.7 537.7 L215.5 547.8 L216.5 553.4 L221.1 554.3 L222 560.8 L235.8 560.8 L236.8 569.4 L240.5 569.4" fill="none" stroke="#284887" stroke-width="1.5" stroke-linejoin="miter"/>
<path d="M98.15 509.85v4M122.75 516.4v4M140 522.8v4M168.77 532v4M174.63 532v4M190.15 535.7v4M198 535.7v4M205.85 535.7v4M228.9 558.8v4" stroke="#284887" stroke-width="0.9"/>
<path d="M74.5 503.3 L78.5 505.7 L83.4 507.4 L86.7 509.8 L89.2 512.3 L91.6 517.2 L96.5 521.2 L104.7 522.9 L112.9 526.2 L120 533.1 L124.6 535.8 L133.8 536.5 L137.7 538.8 L142.3 541.9 L146.9 545.4 L149.2 547.3 L164.8 547.3 L166.6 548.8 L174 548.8 L176.8 551 L193.4 551 L195.2 553.8 L205.4 554.3 L207.2 557.6 L240.5 557.6" fill="none" stroke="#a80832" stroke-width="1.5" stroke-linejoin="miter"/>
<path d="M129.2 534.15v4M157 545.3v4M182.33 549v4M187.87 549v4M200.3 552.05v4M213.86 555.6v4M220.52 555.6v4M227.18 555.6v4M233.84 555.6v4" stroke="#a80832" stroke-width="0.9"/>
<path d="M68 499.9 V642.95" fill="none" stroke="#1a1a1a" stroke-width="1.5"/>
<path d="M67.25 642.35 H246.9" fill="none" stroke="#1a1a1a" stroke-width="1.35"/>
<path d="M64 642.35 H68" stroke="#1a1a1a" stroke-width="1.3"/>
<text x="60.8" y="645.25" text-anchor="end" style="font-size:8.1px">0.00</text>
<path d="M64 608.06 H68" stroke="#1a1a1a" stroke-width="1.3"/>
<text x="60.8" y="610.96" text-anchor="end" style="font-size:8.1px">0.25</text>
<path d="M64 573.77 H68" stroke="#1a1a1a" stroke-width="1.3"/>
<text x="60.8" y="576.67" text-anchor="end" style="font-size:8.1px">0.50</text>
<path d="M64 539.49 H68" stroke="#1a1a1a" stroke-width="1.3"/>
<text x="60.8" y="542.39" text-anchor="end" style="font-size:8.1px">0.75</text>
<path d="M64 505.2 H68" stroke="#1a1a1a" stroke-width="1.3"/>
<text x="60.8" y="508.1" text-anchor="end" style="font-size:8.1px">1.00</text>
<path d="M74.2 642.35 V646.15" stroke="#1a1a1a" stroke-width="1.1"/>
<text x="74.2" y="656.95" text-anchor="middle" style="font-size:8.1px">0</text>
<path d="M101.9 642.35 V646.15" stroke="#1a1a1a" stroke-width="1.1"/>
<text x="101.9" y="656.95" text-anchor="middle" style="font-size:8.1px">2</text>
<path d="M129.6 642.35 V646.15" stroke="#1a1a1a" stroke-width="1.1"/>
<text x="129.6" y="656.95" text-anchor="middle" style="font-size:8.1px">4</text>
<path d="M157.3 642.35 V646.15" stroke="#1a1a1a" stroke-width="1.1"/>
<text x="157.3" y="656.95" text-anchor="middle" style="font-size:8.1px">6</text>
<path d="M185 642.35 V646.15" stroke="#1a1a1a" stroke-width="1.1"/>
<text x="185" y="656.95" text-anchor="middle" style="font-size:8.1px">8</text>
<path d="M212.7 642.35 V646.15" stroke="#1a1a1a" stroke-width="1.1"/>
<text x="212.7" y="656.95" text-anchor="middle" style="font-size:8.1px">10</text>
<path d="M240.4 642.35 V646.15" stroke="#1a1a1a" stroke-width="1.1"/>
<text x="240.4" y="656.95" text-anchor="middle" style="font-size:8.1px">12</text>
<text transform="translate(157.5 670.35) scale(0.58 1)" x="0" y="0" text-anchor="middle" style="font-size:10.4px;stroke-width:0.35px;letter-spacing:0.62px">Time (years)</text>
<text transform="translate(38.9 571.27) rotate(-90) scale(0.6 1)" x="0" y="0" text-anchor="middle" style="font-size:9.9px;stroke-width:0.35px;letter-spacing:0.65px">PFS probability</text>
<text x="8" y="494.2" style="font-size:13px;font-weight:bold;stroke-width:0.6px">E</text>
<path d="M74.6 622.45 H86.8" stroke="#284887" stroke-width="1.4" stroke-linecap="round"/>
<text x="90.7" y="624.85">Stage 1 and 2 (FDG/BMB combined)</text>
<path d="M74.6 631.75 H86.8" stroke="#a80832" stroke-width="1.4" stroke-linecap="round"/>
<text x="90.7" y="634.15">Stage 3 and 4 (FDG/BMB combined)</text>
<text x="240.4" y="608.3" text-anchor="end">Log-rank p = 0.19</text>
<text x="60.8" y="685.65" text-anchor="end">At risk</text>
<text x="60.8" y="695.25" text-anchor="end">Stage 1 and 2</text>
<text x="74.2" y="695.25" text-anchor="middle" style="fill:#33508e;stroke:#33508e">93</text>
<text x="101.9" y="695.25" text-anchor="middle" style="fill:#33508e;stroke:#33508e">79</text>
<text x="129.6" y="695.25" text-anchor="middle" style="fill:#33508e;stroke:#33508e">60</text>
<text x="157.3" y="695.25" text-anchor="middle" style="fill:#33508e;stroke:#33508e">45</text>
<text x="185" y="695.25" text-anchor="middle" style="fill:#33508e;stroke:#33508e">28</text>
<text x="212.7" y="695.25" text-anchor="middle" style="fill:#33508e;stroke:#33508e">21</text>
<text x="240.4" y="695.25" text-anchor="middle" style="fill:#33508e;stroke:#33508e">8</text>
<text x="60.8" y="704.65" text-anchor="end">Stage 3 and 4</text>
<text x="74.2" y="704.65" text-anchor="middle" style="fill:#bb1f45;stroke:#bb1f45">168</text>
<text x="101.9" y="704.65" text-anchor="middle" style="fill:#bb1f45;stroke:#bb1f45">133</text>
<text x="129.6" y="704.65" text-anchor="middle" style="fill:#bb1f45;stroke:#bb1f45">86</text>
<text x="157.3" y="704.65" text-anchor="middle" style="fill:#bb1f45;stroke:#bb1f45">61</text>
<text x="185" y="704.65" text-anchor="middle" style="fill:#bb1f45;stroke:#bb1f45">36</text>
<text x="212.7" y="704.65" text-anchor="middle" style="fill:#bb1f45;stroke:#bb1f45">17</text>
<text x="240.4" y="704.65" text-anchor="middle" style="fill:#bb1f45;stroke:#bb1f45">9</text></g>
</svg>
</body></html>
